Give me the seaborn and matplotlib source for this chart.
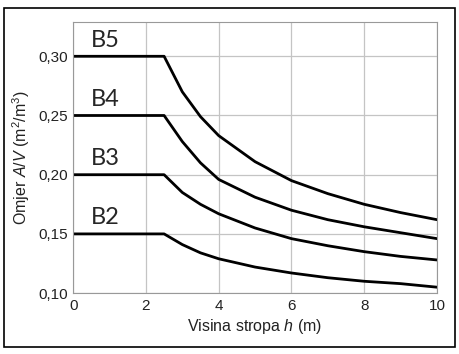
import numpy as np
import pandas as pd
import matplotlib
matplotlib.use('Agg')
import matplotlib.pyplot as plt
import seaborn as sns
from matplotlib.patches import Rectangle

# values
h = [0, 2.5, 3, 3.5, 4, 5, 6, 7, 8, 9, 10]
b5 = [0.30, 0.30, 0.270, 0.249, 0.233, 0.211, 0.195, 0.184, 0.175, 0.168, 0.162]
b4 = [0.25, 0.25, 0.228, 0.210, 0.196, 0.181, 0.170, 0.162, 0.156, 0.151, 0.146]
b3 = [0.20, 0.20, 0.185, 0.175, 0.167, 0.155, 0.146, 0.140, 0.135, 0.131, 0.128]
b2 = [0.15, 0.15, 0.141, 0.134, 0.129, 0.122, 0.117, 0.113, 0.110, 0.108, 0.105]
names = ['B5', 'B4', 'B3', 'B2']
x_ticks = [0, 2, 4, 6, 8, 10]
y_ticks = [0.10, 0.15, 0.20, 0.25, 0.30]
y_tick_labels = ['0,10', '0,15', '0,20', '0,25', '0,30']

sns.set_style('white')
plt.rcParams['font.family'] = ['Liberation Sans', 'DejaVu Sans']
plt.rcParams['mathtext.fontset'] = 'custom'
plt.rcParams['mathtext.rm'] = 'Liberation Sans'
plt.rcParams['mathtext.it'] = 'Liberation Sans:italic'

df = pd.DataFrame({'h': h * 4, 'AV': b5 + b4 + b3 + b2,
                   'serija': sum([[n] * len(h) for n in names], [])})

fig = plt.figure(figsize=(4.6, 3.54), dpi=100)
ax = fig.add_axes([0.159, 0.172, 0.791, 0.766])

for n in names:
    sub = df[df['serija'] == n]
    sns.lineplot(data=sub, x='h', y='AV', color='black', linewidth=2, ax=ax)
    ax.text(0.5, sub['AV'].iloc[0] + 0.0135, n, fontsize=17, family='Lato',
            ha='left', va='center')

ax.set_xlim(0, 10)
ax.set_ylim(0.10, 0.329)
ax.set_xticks(x_ticks)
ax.set_yticks(y_ticks)
ax.set_yticklabels(y_tick_labels)
ax.grid(True, color='#c4c4c4', linewidth=0.9)
ax.tick_params(length=0, labelsize=11, pad=4, labelcolor='#222222')
for s in ax.spines.values():
    s.set_color('#999999')
    s.set_linewidth(0.8)
ax.set_xlabel('Visina stropa $h$ (m)', fontsize=11.5, labelpad=3,
              color='#222222')
ax.set_ylabel('Omjer $A/V$ (m$^2$/m$^3$)', fontsize=11.5, labelpad=4,
              color='#222222')

# outer frame around the figure
fig.patches.append(Rectangle((4 / 460, 1 - 347 / 354), 451 / 460, 339 / 354,
                             transform=fig.transFigure, fill=False,
                             edgecolor='black', linewidth=1.2))

fig.savefig('out.png', dpi=100)
